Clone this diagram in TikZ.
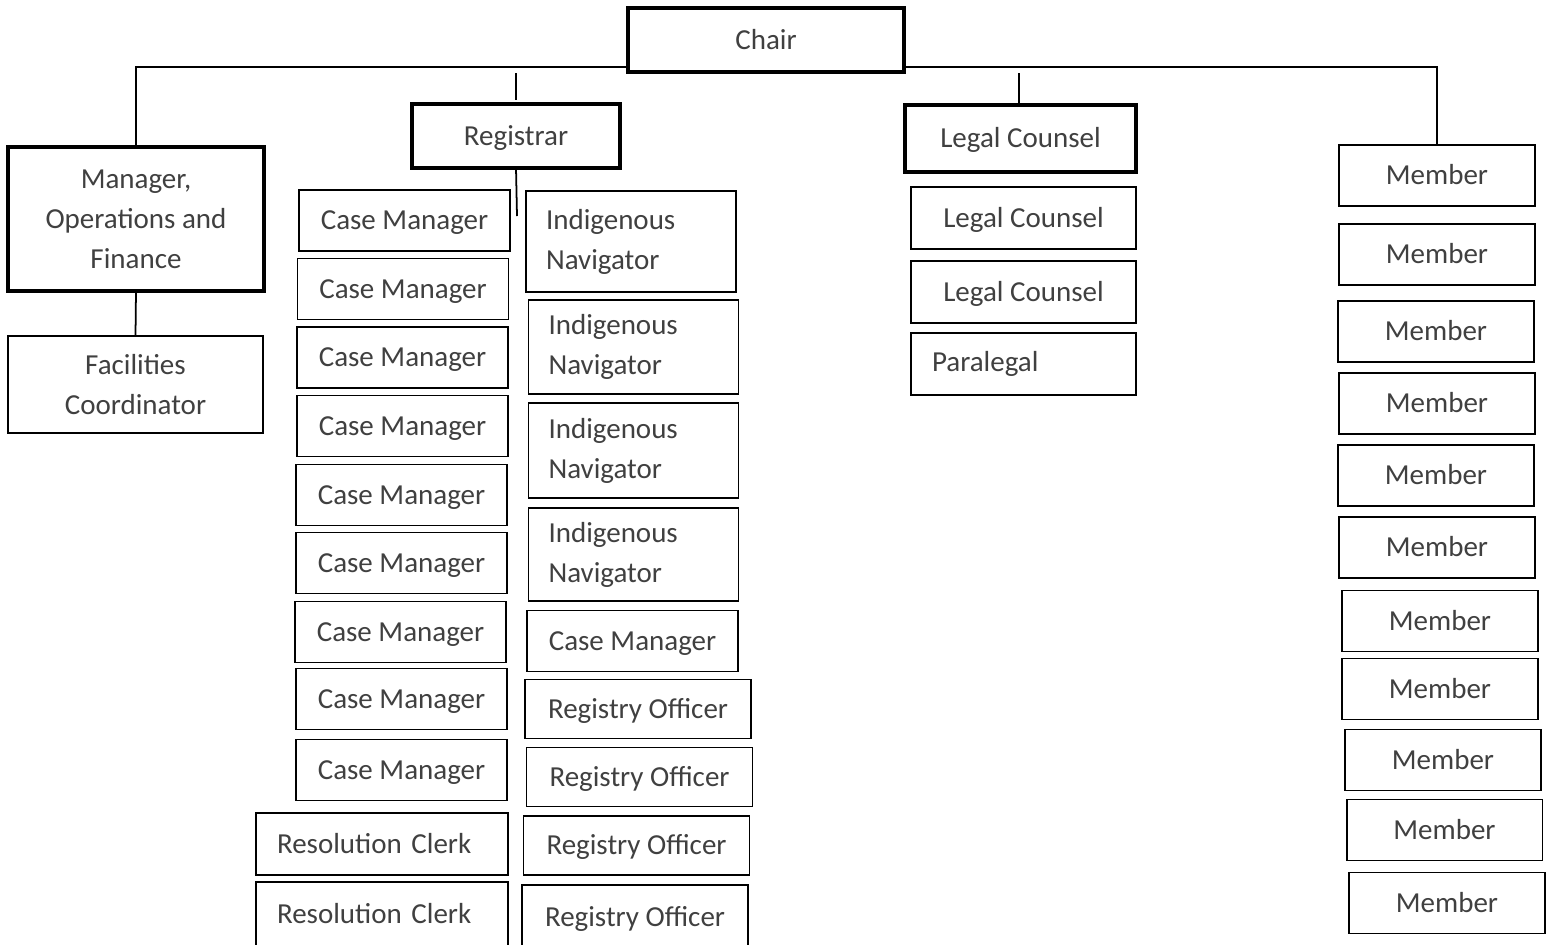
\documentclass[tikz,border=0pt]{standalone}
\usepackage{fontspec}
\setmainfont{Carlito}
\usepackage{tikz}
\definecolor{dfgray}{RGB}{64,64,64}
\newcommand{\orgfont}{\fontsize{16.5}{22.7}\selectfont}
\tikzstyle{link} = [line width=1pt, draw=black]
\tikzstyle{unit} = [rectangle, draw=black, line width=1.1pt, text=dfgray, font=\orgfont, inner sep=0pt, outer sep=0pt]
\tikzstyle{oneline} = [text height=10.6pt, text depth=0pt]
\tikzstyle{lead} = [unit, line width=2.8pt]
\tikzstyle{casebox} = [unit, oneline, minimum width=4.22cm, minimum height=1.22cm]
\tikzstyle{officerbox} = [unit, oneline, minimum width=4.52cm, minimum height=1.18cm]
\tikzstyle{counselbox} = [unit, oneline, minimum width=4.5cm, minimum height=1.24cm]
\tikzstyle{memberbox} = [unit, oneline, minimum width=3.92cm, minimum height=1.22cm]
\tikzstyle{navbox} = [unit, text width=3.4cm, inner xsep=0.4cm, align=left]
\tikzstyle{clerkbox} = [unit, text width=4.2cm, inner xsep=0.42cm, align=left, minimum height=1.24cm]

\begin{document}
\begin{tikzpicture}[x=0.02cm, y=-0.02cm]
\useasboundingbox (0,0) rectangle (1551,944);

% Chair and the heads below it
\node (chair) [lead, oneline, minimum width=5.52cm, minimum height=1.28cm] at (766,40) {Chair};
\node (registrar) [lead, oneline, minimum width=4.16cm, minimum height=1.28cm] at (516,136) {Registrar};
\node (counselhead) [lead, oneline, minimum width=4.62cm, minimum height=1.34cm] at (1020.5,138.5) {Legal Counsel};
\node (manager) [lead, align=center, minimum width=5.12cm, minimum height=2.88cm] at (136,219) {Manager,\\Operations and\\Finance};
\node (facilities) [unit, align=center, minimum width=5.1cm, minimum height=1.94cm] at (135.5,384.5) {Facilities\\Coordinator};

% Registrar, left column
\node (case1) [casebox] at (404.5,220.5) {Case Manager};
\node (case2) [casebox] at (403,289) {Case Manager};
\node (case3) [casebox] at (402.5,357.5) {Case Manager};
\node (case4) [casebox] at (402.5,426) {Case Manager};
\node (case5) [casebox] at (401.5,495) {Case Manager};
\node (case6) [casebox] at (401.5,563) {Case Manager};
\node (case7) [casebox] at (400.5,632) {Case Manager};
\node (case8) [casebox] at (401.5,699) {Case Manager};
\node (case9) [casebox] at (401.5,770) {Case Manager};
\node (clerk1) [clerkbox] at (382,844) {Resolution Clerk};
\node (clerk2) [clerkbox, minimum height=1.28cm] at (382,914) {Resolution Clerk};

% Registrar, right column
\node (nav1) [navbox, minimum height=2.02cm] at (631,241.5) {Indigenous\\Navigator};
\node (nav2) [navbox, minimum height=1.88cm] at (633.5,347) {Indigenous\\Navigator};
\node (nav3) [navbox, minimum height=1.9cm] at (633.5,450.5) {Indigenous\\Navigator};
\node (nav4) [navbox, minimum height=1.86cm] at (633.5,554.5) {Indigenous\\Navigator};
\node (case10) [casebox] at (632.5,641) {Case Manager};
\node (officer1) [officerbox] at (638,709) {Registry Officer};
\node (officer2) [officerbox] at (639.5,777) {Registry Officer};
\node (officer3) [officerbox] at (636.5,845.5) {Registry Officer};
\node (officer4) [officerbox, minimum height=1.28cm] at (635,917) {Registry Officer};

% Legal
\node (counsel1) [counselbox] at (1023.5,218) {Legal Counsel};
\node (counsel2) [counselbox] at (1023.5,292) {Legal Counsel};
\node (paralegal) [unit, text width=3.66cm, inner xsep=0.42cm, align=left, minimum height=1.24cm] at (1023.5,364) {Paralegal};

% Members
\node (member1) [memberbox] at (1437,175.5) {Member};
\node (member2) [memberbox] at (1437,254.5) {Member};
\node (member3) [memberbox] at (1436,331.5) {Member};
\node (member4) [memberbox] at (1437,403.5) {Member};
\node (member5) [memberbox] at (1436,475.5) {Member};
\node (member6) [memberbox] at (1437,547.5) {Member};
\node (member7) [memberbox] at (1440,621) {Member};
\node (member8) [memberbox] at (1440,689) {Member};
\node (member9) [memberbox] at (1443,760) {Member};
\node (member10) [memberbox] at (1444.5,830) {Member};
\node (member11) [memberbox] at (1447,903) {Member};

% Lines
\coordinate (regtop) at (516,73);
\coordinate (counseltop) at (1019,73);
\coordinate (regfoot) at (517,216);
\draw[link] ([yshift=0.1cm]chair.south west) -| (manager.north);
\draw[link] ([yshift=0.1cm]chair.south east) -| (member1.north);
\draw[link] (regtop) -- ([yshift=0.08cm]registrar.north);
\draw[link] (counseltop) -- (counseltop |- counselhead.north);
\draw[link] (registrar.south) -- (regfoot);
\draw[link] (manager.south) -- (facilities.north);
\end{tikzpicture}
\end{document}
